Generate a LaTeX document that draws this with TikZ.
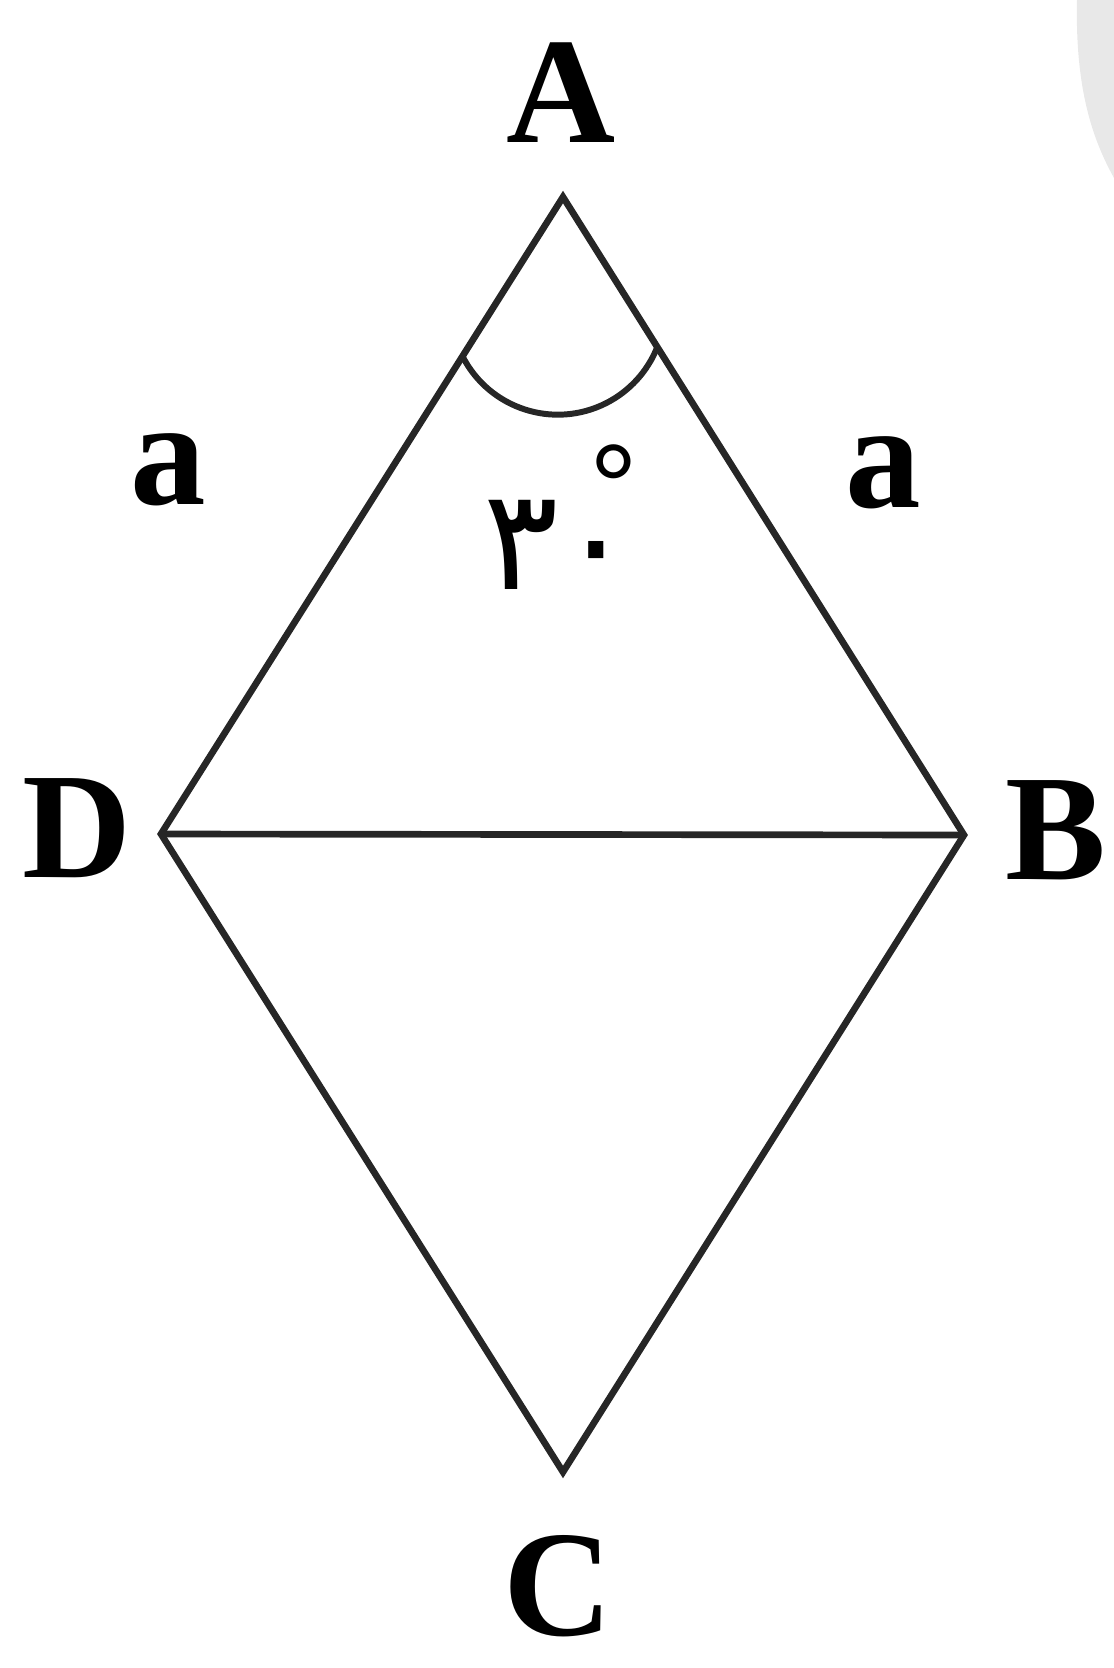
\documentclass[tikz,border=0pt]{standalone}
\usepackage{fontspec}
\setmainfont{Liberation Serif}
\newfontfamily\pfont[Script=Arabic]{DejaVu Sans}
\usetikzlibrary{calc}

\begin{document}
\begin{tikzpicture}[
    x=0.02cm, y=-0.02cm,
    edge/.style={line width=3.8pt, line join=miter, black!85},
    anglemark/.style={line width=3.4pt, black!85},
    vlabel/.style={font=\fontsize{86}{96}\selectfont\bfseries, inner sep=0pt},
    sidelabel/.style={vlabel},
    anglelabel/.style={font=\fontsize{80}{90}\selectfont, inner sep=0pt}
]
\useasboundingbox (0,0) rectangle (1114,1668);
% grey patch in the corner
\fill[black!9] (1077,0) .. controls (1075,90) and (1093,140) .. (1114,178) -- (1114,0) -- cycle;

\coordinate (A) at (563,197);
\coordinate (B) at (964,835);
\coordinate (C) at (563,1472);
\coordinate (D) at (161,834);

\draw[edge] (A) -- (B) -- (C) -- (D) -- cycle;
\draw[edge] (D) -- (B);

% angle at A
\coordinate (p1) at ($(A)!0.25!(D)$);
\draw[anglemark] (p1) arc[start angle=207, end angle=338, radius=2.14cm];

\node[vlabel] (lA) at (561,93) {A};
\node[vlabel] (lB) at (1056,830) {B};
\node[vlabel] (lC) at (558,1586) {C};
\node[vlabel] (lD) at (77,828) {D};
\node[sidelabel] (aL) at (168,470) {a};
\node[sidelabel] (aR) at (883,473) {a};
\node[anglelabel] (ang) at (560,517) {{\pfont ۳۰}\kern-0.3em\raisebox{0.5em}{\fontsize{64}{64}\selectfont\bfseries °}};
\end{tikzpicture}
\end{document}
